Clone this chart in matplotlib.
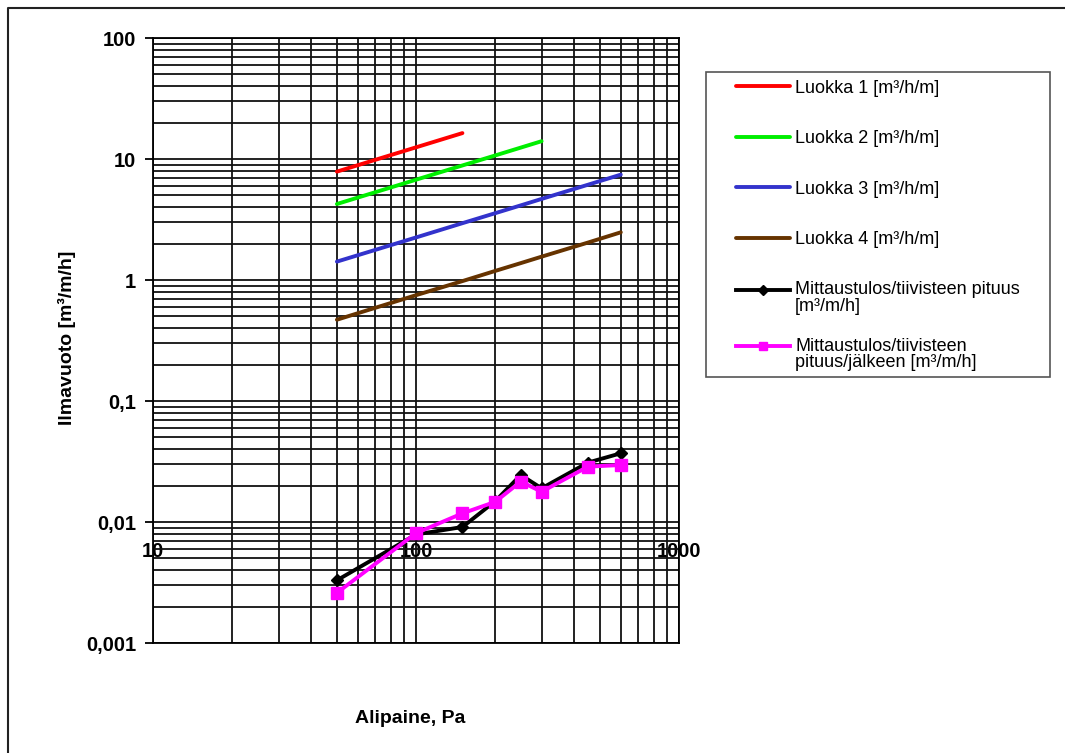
import matplotlib
matplotlib.use("Agg")
import matplotlib.pyplot as plt
from matplotlib.lines import Line2D
from matplotlib.patches import Rectangle
from matplotlib.ticker import LogLocator, NullFormatter
from matplotlib.legend_handler import HandlerLine2D

plt.rcParams['font.family'] = ['Liberation Sans', 'DejaVu Sans']

# luokkarajat (m3/h/m)
p_luokka1 = [50, 100, 150]
q_luokka1 = [7.87, 12.5, 16.38]
p_luokka2 = [50, 100, 150, 200, 250, 300]
q_luokka2 = [4.25, 6.75, 8.85, 10.71, 12.43, 14.04]
p_luokka34 = [50, 100, 150, 200, 250, 300, 450, 600]
q_luokka3 = [1.42, 2.25, 2.95, 3.57, 4.14, 4.68, 6.13, 7.43]
q_luokka4 = [0.47, 0.75, 0.98, 1.19, 1.38, 1.56, 2.04, 2.48]

# mittaustulokset
p_mitt = [50, 100, 150, 200, 250, 300, 450, 600]
q_ennen = [0.0033, 0.0079, 0.0091, 0.0149, 0.0245, 0.0190, 0.031, 0.037]
q_jalkeen = [0.0026, 0.0081, 0.0118, 0.0147, 0.0216, 0.0178, 0.0287, 0.0296]

labels = ["Luokka 1 [m³/h/m]", "Luokka 2 [m³/h/m]", "Luokka 3 [m³/h/m]",
          "Luokka 4 [m³/h/m]",
          "Mittaustulos/tiivisteen pituus\n[m³/m/h]",
          "Mittaustulos/tiivisteen\npituus/jälkeen [m³/m/h]"]

yticks = [0.001, 0.01, 0.1, 1, 10, 100]
yticklabels = ["0,001", "0,01", "0,1", "1", "10", "100"]
xticks = [10, 100, 1000]
xticklabels = ["10", "100", "1000"]


class FirstLineHandler(HandlerLine2D):
    # selitteen viiva ensimmaisen tekstirivin kohdalle (kuten Excelissa)
    def create_artists(self, legend, orig_handle, xdescent, ydescent,
                       width, height, fontsize, trans):
        return super().create_artists(legend, orig_handle, xdescent, ydescent - 12.2,
                                      width, height, fontsize, trans)


fig = plt.figure(figsize=(10.65, 7.53), dpi=100)
ax = fig.add_axes([0.1437, 0.146, 0.494, 0.8035])

lw = 2.8
lines = []
lines += ax.plot(p_luokka1, q_luokka1, color="#ff0000", lw=lw, label=labels[0], solid_capstyle="round")
lines += ax.plot(p_luokka2, q_luokka2, color="#00ee00", lw=lw, label=labels[1], solid_capstyle="round")
lines += ax.plot(p_luokka34, q_luokka3, color="#3333cc", lw=lw, label=labels[2], solid_capstyle="round")
lines += ax.plot(p_luokka34, q_luokka4, color="#663300", lw=lw, label=labels[3], solid_capstyle="round")
lines += ax.plot(p_mitt, q_ennen, color="black", lw=lw, marker="D", markersize=6.5, label=labels[4])
lines += ax.plot(p_mitt, q_jalkeen, color="#ff00ff", lw=lw, marker="s", markersize=8, label=labels[5])

ax.set_xscale("log")
ax.set_yscale("log")
ax.set_xlim(10, 1000)
ax.set_ylim(0.001, 100)

ax.set_yticks(yticks)
ax.set_yticklabels(yticklabels, fontsize=14.5, fontweight="bold")
ax.set_xticks(xticks)
ax.set_xticklabels(xticklabels, fontsize=14.5, fontweight="bold")
ax.xaxis.set_minor_locator(LogLocator(base=10, subs=range(2, 10)))
ax.yaxis.set_minor_locator(LogLocator(base=10, subs=range(2, 10)))
ax.xaxis.set_minor_formatter(NullFormatter())
ax.yaxis.set_minor_formatter(NullFormatter())

ax.grid(True, which="both", color="#111111", lw=1.3)
ax.set_axisbelow(True)
ax.tick_params(axis="y", which="major", length=6, width=1.3, pad=6)
ax.tick_params(axis="both", which="minor", length=0)
# x-akselin luvut piirretaan 0,01-viivan alle kuten alkuperaisessa
ax.tick_params(axis="x", which="major", length=0, pad=-73)
for s in ax.spines.values():
    s.set_linewidth(1.3)

ax.set_ylabel("Ilmavuoto [m³/m/h]", fontsize=14, fontweight="bold")
ax.yaxis.set_label_coords(-0.146, 0.505)
ax.set_xlabel("Alipaine, Pa", fontsize=14, fontweight="bold")
ax.xaxis.set_label_coords(0.489, -0.111)

# selite
fig.patches.append(Rectangle((706 / 1065, 1 - 377 / 753), 344 / 1065, 305 / 753,
                             transform=fig.transFigure, fill=False,
                             edgecolor="#555555", lw=1.2))
legkw = dict(loc="upper left", frameon=False, fontsize=13, handlelength=3.0,
             handletextpad=0.28, labelspacing=1.85, borderpad=0, borderaxespad=0,
             numpoints=1, markerscale=0.8,
             handler_map={lines[4]: FirstLineHandler(), lines[5]: FirstLineHandler()})
leg1 = fig.legend(lines[:5], labels[:5], bbox_to_anchor=(0.691, 0.894), **legkw)
leg2 = fig.legend(lines[5:], labels[5:], bbox_to_anchor=(0.691, 0.5514), **legkw)
for leg in (leg1, leg2):
    for t in leg.get_texts():
        t.set_linespacing(0.95)

# kuvan reunaviiva
fig.add_artist(Line2D([7.5 / 1065, 7.5 / 1065, 1.0], [0.0, 1 - 8 / 753, 1 - 8 / 753],
                      transform=fig.transFigure, color="#222222", lw=1.5))

plt.savefig("out.png", dpi=100)
